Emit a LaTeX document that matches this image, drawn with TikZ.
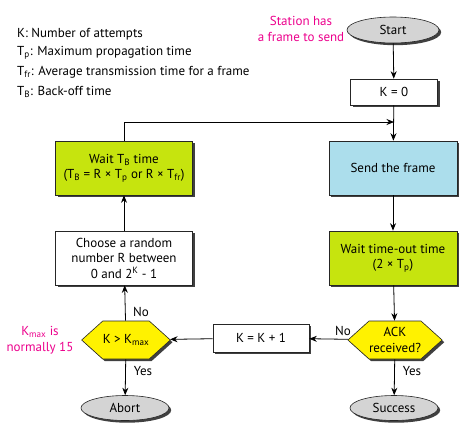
\documentclass[tikz,border=0pt]{standalone}
\usepackage{fontspec}
\setmainfont{PT Sans}
\usetikzlibrary{shapes.geometric,shapes.symbols,shadows,arrows.meta}
\definecolor{boxgreen}{RGB}{198,228,14}
\definecolor{boxblue}{RGB}{172,222,236}
\definecolor{hexyellow}{RGB}{255,242,0}
\definecolor{termgray}{RGB}{212,212,212}
\definecolor{notepink}{RGB}{236,0,140}
\begin{document}
\begin{tikzpicture}[x=1pt,y=-1pt,
  font=\fontsize{13}{15.5}\selectfont,
  shadowed/.style={drop shadow={shadow xshift=2.2pt,shadow yshift=-2.2pt,fill=black!75,opacity=1}},
  box/.style={draw=black!85,line width=0.6pt,shadowed,rectangle,inner sep=0pt,align=center},
  bigbox/.style={box,minimum width=128pt,minimum height=54pt},
  term/.style={draw=black!85,line width=0.6pt,shadowed,ellipse,fill=termgray,inner sep=0pt,minimum width=88pt,minimum height=25pt},
  hexa/.style={draw=black!85,line width=0.6pt,shadowed,signal,signal to=east and west,signal pointer angle=84,fill=hexyellow,inner sep=0pt,minimum width=88pt,minimum height=38pt,align=center},
  arr/.style={line width=0.8pt,-{Stealth[length=7.5pt,width=6pt]}},
  note/.style={text=notepink,align=center},
  lbl/.style={inner sep=0pt}]
\useasboundingbox (0,0) rectangle (466,445);
% legend
\node[lbl,anchor=west] (l1) at (17,34) {K: Number of attempts};
\node[lbl,anchor=west] (l2) at (17,53) {T\textsubscript{p}: Maximum propagation time};
\node[lbl,anchor=west] (l3) at (17,72) {T\textsubscript{fr}: Average transmission time for a frame};
\node[lbl,anchor=west] (l4) at (17,92) {T\textsubscript{B}: Back-off time};
% annotations
\node[note] (station) at (301,29) {Station has\\a frame to send};
\node[note] (kmaxnote) at (40,340) {K\textsubscript{max} is\\normally 15};
% flow nodes
\node[term,minimum width=92pt,minimum height=26pt] (start) at (393,30) {Start};
\node[box,minimum width=87pt,minimum height=26pt,fill=white] (k0) at (394,92) {K = 0};
\node[bigbox,fill=boxblue] (send) at (393,168) {Send the frame};
\node[bigbox,fill=boxgreen] (waitto) at (393,258) {Wait time-out time\\(2 × T\textsubscript{p})};
\node[hexa] (ack) at (395,340) {ACK\\received?};
\node[term] (success) at (394,408) {Success};
\node[box,minimum width=96pt,minimum height=28pt,fill=white] (kinc) at (261,338) {K = K + 1};
\node[hexa] (kmax) at (126,340) {K > K\textsubscript{max}};
\node[term] (abort) at (125,408) {Abort};
\node[bigbox,minimum width=137pt,fill=white] (choose) at (124,258) {Choose a random\\number R between\\0 and 2\textsuperscript{K} - 1};
\node[bigbox,minimum width=137pt,fill=boxgreen] (waitb) at (124,168) {Wait T\textsubscript{B} time\\(T\textsubscript{B} = R × T\textsubscript{p} or R × T\textsubscript{fr})};
\coordinate (join) at (394,122);
% connectors
\draw[arr] (start) -- (k0);
\draw[arr] (k0) -- (send);
\draw[arr] (waitb.north) |- (join);
\draw[arr] (send) -- (waitto);
\draw[arr] (waitto) -- (ack);
\draw[arr] (ack) -- (kinc);
\draw[arr] (ack) -- (success);
\draw[arr] (kinc) -- (kmax);
\draw[arr] (kmax) -- (choose);
\draw[arr] (kmax) -- (abort);
\draw[arr] (choose) -- (waitb);
% labels
\node[lbl] (no1) at (141,312) {No};
\node[lbl] (yes1) at (143,371) {Yes};
\node[lbl] (no2) at (343,331) {No};
\node[lbl] (yes2) at (412,371) {Yes};
\end{tikzpicture}
\end{document}
